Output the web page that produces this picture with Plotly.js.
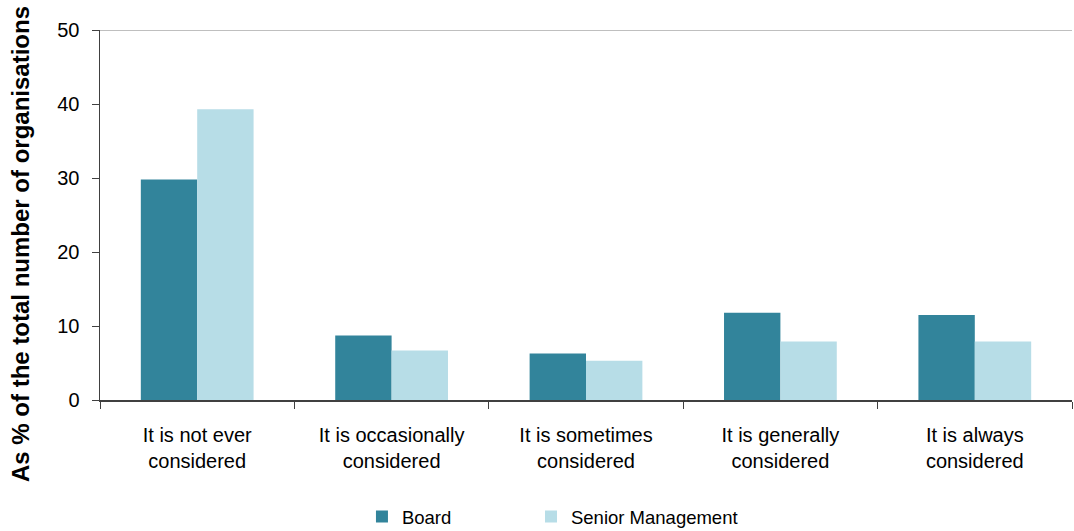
<!DOCTYPE html>
<html><head><meta charset="utf-8">
<script src="https://cdn.plot.ly/plotly-3.0.1.min.js"></script>
<style>body{margin:0;background:#fff}#c{width:1074px;height:531px}</style>
</head><body><div id="c"></div>
<script>
const categories = ["It is not ever<br>considered","It is occasionally<br>considered","It is sometimes<br>considered","It is generally<br>considered","It is always<br>considered"];
const board = [29.8, 8.7, 6.3, 11.8, 11.5];
const senior = [39.3, 6.7, 5.3, 7.9, 7.9];
const yTicks = [0,10,20,30,40,50];
const yTitle = "As % of the total number of organisations";

const font = {family: "Liberation Sans, Arial, sans-serif", color: "#000"};
const traces = [
  {type:"bar", name:"Board", x:categories, y:board, marker:{color:"#32849B"}, legend:"legend"},
  {type:"bar", name:"Senior Management", x:categories, y:senior, marker:{color:"#B7DDE7"}, legend:"legend2"}
];
const legFont = {...font, size:18.5};
const layout = {
  width:1074, height:531,
  margin:{l:100, r:2, t:30, b:131, autoexpand:false},
  paper_bgcolor:"#fff", plot_bgcolor:"#fff",
  font:{...font, size:20},
  barmode:"group", bargap:0.42, bargroupgap:0,
  showlegend:true,
  legend:{orientation:"h", x:0.2695, xanchor:"left", yref:"container", y:0.0622, yanchor:"top", font:legFont, bgcolor:"rgba(0,0,0,0)"},
  legend2:{orientation:"h", x:0.4434, xanchor:"left", yref:"container", y:0.0622, yanchor:"top", font:legFont, bgcolor:"rgba(0,0,0,0)"},
  xaxis:{showline:true, linecolor:"#404040", linewidth:2, ticks:"outside", tickson:"boundaries", ticklen:7, tickcolor:"#404040", tickfont:{...font,size:20}, ticklabelstandoff:16, showgrid:false, zeroline:false},
  yaxis:{range:[0,50], tickvals:yTicks, ticktext:yTicks.map(String), showline:true, linecolor:"#404040", linewidth:1.5, ticks:"outside", ticklen:7, tickcolor:"#404040", tickfont:{...font,size:20}, ticklabelstandoff:8, showgrid:false, zeroline:false},
  annotations:[{text:"<b>"+yTitle+"</b>", textangle:-90, xref:"paper", yref:"paper", x:-0.0823, y:0.4216, xanchor:"center", yanchor:"middle", showarrow:false, font:{...font,size:24}}],
  shapes:[{type:"line", xref:"paper", yref:"y", x0:0, x1:1, y0:50, y1:50, line:{color:"#808080", width:1}}]
};
Plotly.newPlot("c", traces, layout, {displayModeBar:false, staticPlot:true});
</script></body></html>
